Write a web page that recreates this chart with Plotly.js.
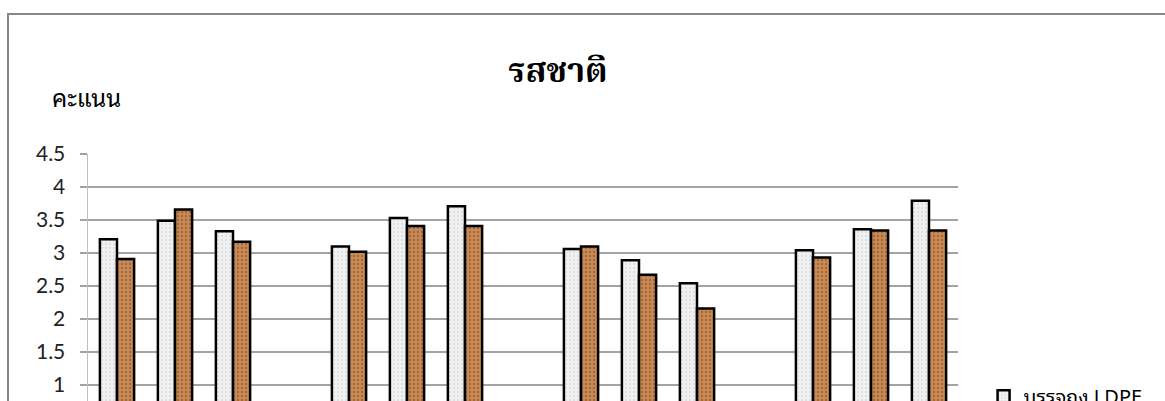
<!DOCTYPE html>
<html>
<head>
<meta charset="utf-8">
<script src="https://cdn.plot.ly/plotly-3.0.1.min.js"></script>
<style>
  html, body { margin: 0; padding: 0; background: #ffffff; overflow: hidden; width: 1165px; height: 401px; }
  #frame { position: absolute; left: 7px; top: 13px; width: 1300px; height: 700px;
           border: 2px solid #878787; box-sizing: border-box; }
  #chart { position: absolute; left: 0; top: 0; width: 1300px; height: 560px; }
</style>
</head>
<body>
<div id="frame"></div>
<div id="chart"></div>
<script>
// Sensory score for taste (รสชาติ), four storage groups of three samples each
const categories = ['1', '2', '3', '4', '5', '6', '7', '8', '9', '10', '11', '12'];
const groupSize = 3;
const seriesLDPE = [3.21, 3.49, 3.33, 3.10, 3.53, 3.71, 3.06, 2.89, 2.54, 3.04, 3.36, 3.79];
const seriesOther = [2.91, 3.66, 3.17, 3.02, 3.41, 3.41, 3.10, 2.67, 2.16, 2.93, 3.34, 3.34];
const seriesNames = ['บรรจุถุง LDPE', 'บรรจุถุง PP'];
const yTicks = [0, 0.5, 1, 1.5, 2, 2.5, 3, 3.5, 4, 4.5];

// Each group of three is followed by an empty slot on the category axis
const slots = categories.map((c, i) => Math.floor(i / groupSize) * (groupSize + 1) + (i % groupSize));

const traces = [
  {
    type: 'bar', name: seriesNames[0], x: slots, y: seriesLDPE,
    marker: {
      color: '#f0f0f0',
      line: { color: '#000000', width: 2.5 },
      pattern: { shape: '.', fillmode: 'replace', bgcolor: '#f2f2f2', fgcolor: '#e0e0e0', size: 4, solidity: 0.3 }
    }
  },
  {
    type: 'bar', name: seriesNames[1], x: slots, y: seriesOther,
    marker: {
      color: '#c98a56',
      line: { color: '#000000', width: 2.5 },
      pattern: { shape: '.', fillmode: 'replace', bgcolor: '#c98a56', fgcolor: '#a4683a', size: 4, solidity: 0.3 }
    }
  }
];

const tickFont = { family: 'Lato, "Open Sans", sans-serif', size: 21, color: '#222222' };
const thaiFont = '"Noto Sans Thai Looped", Kinnari, Norasi, Garuda, Loma, "Noto Sans", sans-serif';

const layout = {
  width: 1300, height: 560,
  margin: { l: 88, r: 342, t: 154, b: 109, pad: 0 },
  paper_bgcolor: 'rgba(0,0,0,0)', plot_bgcolor: '#ffffff',
  barmode: 'group', bargap: 0.41, bargroupgap: 0,
  showlegend: true,
  legend: {
    x: 1.0294, y: 0.25, xanchor: 'left', yanchor: 'top',
    font: { family: thaiFont, size: 20, color: '#000000' },
    bgcolor: 'rgba(0,0,0,0)', itemwidth: 30, tracegroupgap: 6
  },
  title: {
    text: '<b>รสชาติ</b>',
    font: { family: '"Noto Serif Thai", Kinnari, Norasi, "DejaVu Serif", serif', size: 34, color: '#000000' },
    x: 558 / 1300, xanchor: 'center', y: 1 - 70 / 560, yanchor: 'middle'
  },
  xaxis: {
    type: 'linear', range: [-0.5, 14.5],
    tickmode: 'array', tickvals: slots, ticktext: categories, showticklabels: false,
    showgrid: false, zeroline: false, showline: true, linecolor: '#a6a6a6', linewidth: 2,
    ticks: '', tickfont: tickFont
  },
  yaxis: {
    range: [0, 4.5], tickmode: 'array', tickvals: yTicks,
    ticktext: yTicks.map(v => String(v)),
    showgrid: true, gridcolor: '#a3a3a3', gridwidth: 1.5,
    zeroline: false, showline: true, linecolor: '#bdbdbd', linewidth: 1.5,
    ticks: 'outside', ticklen: 7, tickcolor: '#a3a3a3', tickwidth: 1.5,
    ticklabelstandoff: 10, tickfont: tickFont
  },
  annotations: [
    {
      text: 'คะแนน', xref: 'paper', yref: 'paper',
      x: (50 - 88) / 870, y: (451 - 96) / 297, xanchor: 'left', yanchor: 'middle',
      showarrow: false,
      font: { family: thaiFont, size: 24, color: '#000000' }
    }
  ]
};

Plotly.newPlot('chart', traces, layout, { displayModeBar: false, staticPlot: true });
</script>
</body>
</html>
